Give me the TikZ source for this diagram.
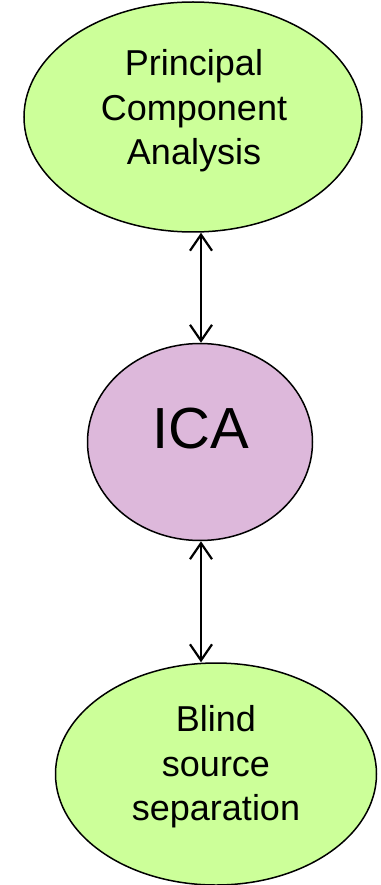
\documentclass[tikz,border=0pt]{standalone}
\usepackage{fontspec}
\setmainfont{Liberation Sans}
\usetikzlibrary{shapes.geometric,arrows.meta}
\definecolor{leafgreen}{RGB}{204,255,153}
\definecolor{icapink}{RGB}{221,184,219}
\tikzset{
  blob/.style={ellipse, draw=black, line width=1.5pt, inner sep=0pt},
  words/.style={align=center, inner sep=0pt, font=\fontsize{36}{44.5}\selectfont},
  link/.style={line width=2.2pt, {Straight Barb[length=16pt,width=22pt]}-{Straight Barb[length=16pt,width=22pt]}}
}
\begin{document}
\begin{tikzpicture}[x=1pt,y=-1pt]
% Set the page to the reference size
\useasboundingbox (0,0) rectangle (380,885);

% Draw the three ellipses
\node[blob, fill=leafgreen, minimum width=338pt, minimum height=230pt] (pca) at (193,117) {};
\node[blob, fill=icapink, minimum width=225pt, minimum height=197pt] (ica) at (200,442) {};
\node[blob, fill=leafgreen, minimum width=321pt, minimum height=222pt] (bss) at (216,774) {};

% Insert the texts
\node[words] (pcatext) at (194,111) {Principal\\Component\\Analysis};
\node[words, anchor=base, font=\fontsize{58}{60}\selectfont] (icatext) at (201,448) {ICA};
\node[words] (bsstext) at (216,767) {Blind\\source\\separation};

% Draw the double arrows
\draw[link] (pca.south -| 201,0) -- (ica.north -| 201,0);
\draw[link] (ica.south -| 201,0) -- (bss.north -| 201,0);
\end{tikzpicture}
\end{document}
